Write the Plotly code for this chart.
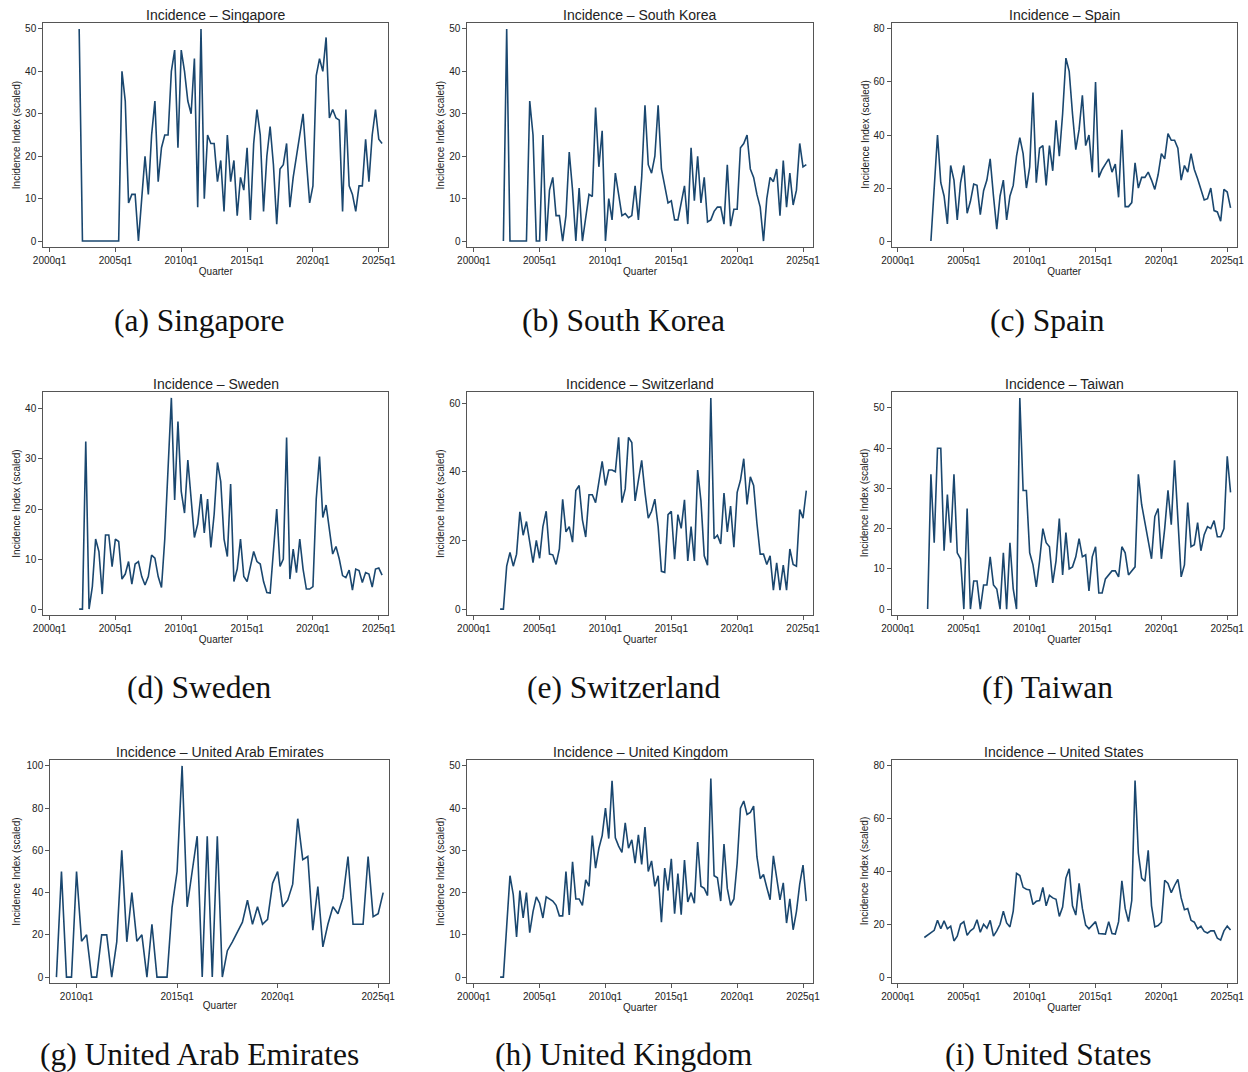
import plotly.graph_objects as go

# ---------------- data (quarterly incidence index, scaled) ----------------
countries = ["Singapore", "South Korea", "Spain", "Sweden", "Switzerland",
             "Taiwan", "United Arab Emirates", "United Kingdom", "United States"]
letters = ["a", "b", "c", "d", "e", "f", "g", "h", "i"]

start_quarters = ["2002q2", "2002q2", "2002q3", "2002q2", "2002q1",
                  "2002q2", "2009q1", "2002q1", "2002q1"]

singapore = [50, 0, 0, 0, 0, 0, 0, 0, 0, 0, 0, 0, 0,
             40, 33, 9, 11, 11, 0, 10, 20, 11, 25,
             33, 14, 22, 25, 25, 40, 45, 22,
             45, 40, 33, 30, 43, 8, 50, 10,
             25, 23, 23, 14, 19, 7, 25, 14,
             19, 6, 15, 12, 22, 5, 23, 31,
             25, 7, 20, 27, 18, 4, 17, 18,
             23, 8, 15, 20, 25, 30, 19, 9,
             13, 39, 43, 40, 48, 29, 31, 29,
             28.5, 7, 31, 13, 11, 7, 13, 13,
             24, 14, 25, 31, 24, 23]

south_korea = [0, 50, 0, 0, 0, 0, 0, 0,
               33, 25, 0, 0, 25, 0, 12,
               15, 6, 6, 0, 6, 21, 12, 0,
               12.5, 0, 6, 11, 10.5, 31.5, 17.5, 26,
               0, 10, 5, 16, 11, 6, 6.5, 5.5,
               6, 13, 5, 15, 32, 18, 16, 20,
               32, 17, 13, 9, 9.5, 5, 5, 9,
               13, 4, 22, 9.5, 20, 9, 15, 4.5,
               5, 7, 8, 8, 4, 18, 3.5, 7.5,
               7.5, 22, 23, 25, 17, 15, 11, 8,
               0, 10, 15, 14, 17, 6, 19, 8,
               16, 8.5, 12, 23, 17.5, 18]

spain = [0, 22, 40, 22, 17, 6.5, 28.5, 23, 8, 22,
         28.5, 10.5, 15, 21.5, 21, 10, 19, 23,
         31, 17, 4.5, 17, 23, 8, 17, 21,
         32, 39, 33, 20, 28, 56, 22, 35,
         36, 21, 36, 26.5, 45.5, 32, 48, 69,
         64, 48, 34.5, 42, 55, 36, 40, 26,
         60, 24, 27, 29, 31, 26, 29, 16.5,
         42, 13, 13, 14.5, 29.5, 20, 24, 24,
         26, 23, 19.5, 25, 33, 31, 40.5, 38,
         38, 35, 23, 28.5, 26, 33, 27, 23.5,
         19, 15.5, 16, 20, 11.5, 11, 7.5, 19.5,
         18.5, 12.5]

sweden = [0, 0, 33.5, 0, 4.5, 14, 11.5, 3, 14.8, 14.8, 8.5,
          14, 13.5, 6, 7, 9.5, 5, 9, 9.5,
          6.5, 4.8, 6.5, 10.8, 10.2, 6.5, 4.3, 14,
          29, 42.2, 21.8, 37.5, 23.5, 19.2, 29.8, 22,
          14.3, 17, 23, 15.2, 22, 12.3, 19, 29.3,
          25.5, 14, 10.5, 25, 5.5, 8, 14, 6.5,
          5.5, 8.5, 11.5, 9.5, 9, 5.5, 3.3, 3.2,
          11, 20, 8.5, 10, 34.3, 6, 12, 7.3,
          14, 8, 4, 4, 4.5, 22, 30.5, 18.3,
          20.8, 15.5, 11, 12.5, 10, 6.7, 6.3, 7.8,
          3.8, 8, 7.7, 5.3, 7.3, 7, 4.4, 8,
          8.2, 6.8]

switzerland = [0, 0, 12.5, 16.5, 12.5, 16, 28.3, 21.5,
               25.5, 19.5, 13.5, 20, 14.8, 24, 28.5, 16,
               15.8, 13, 17.5, 32, 22.5, 24, 19.5, 34.5,
               36, 26, 21, 33.3, 33.3, 31, 37, 43,
               36, 40.5, 40.5, 40, 50, 31, 35, 50,
               48.5, 31.5, 37.5, 43.3, 34, 26.5, 28.5, 32,
               24, 11, 10.7, 27.5, 28.5, 14.5, 27.5, 23.5,
               31.8, 14, 24, 14, 40.5, 31.5, 15.5, 12.8,
               61.5, 20.5, 21.5, 19, 33.8, 22.5, 30, 18,
               34, 37.5, 43.8, 30.5, 38.5, 36, 25, 16,
               16, 13, 15.5, 5.5, 13.5, 5.5, 12.8, 5.5,
               17.5, 13, 12.5, 29, 26.5, 34.5]

taiwan = [0, 33.5, 16.5, 40, 40, 14.5, 28.5, 16.5, 33.5, 14, 12.5,
          0, 25, 0, 7, 7, 0, 6, 6,
          13, 6, 5, 0, 14, 0, 16.5, 5,
          0, 52.5, 29.5, 29.5, 14, 11, 5.5, 12,
          20, 16.5, 15.5, 6.5, 12, 22.5, 8.5, 19,
          10, 10.5, 13, 17.5, 13, 13.5, 4.5, 13,
          15.5, 4, 4, 7.5, 8.5, 9.5, 9.5, 8,
          15.5, 14, 8.5, 9.5, 10.5, 33.5, 26, 21.5,
          17, 12.5, 23, 25, 12.5, 20, 29.5, 21,
          37, 21, 8, 11, 26.5, 15.5, 16, 21.5,
          14.5, 18.5, 20.5, 20, 22, 18, 18, 20,
          38, 29]

uae = [0, 50, 0, 0, 50, 17, 20, 0,
       0, 20, 20, 0, 16.7, 60, 16.7, 40,
       17, 20, 0, 25, 0, 0, 0, 33,
       50, 100, 33.3, 50, 66.7, 0, 66.7, 0,
       66.7, 0, 12.5, 16.7, 21.4, 26, 36.4, 25,
       33.3, 25, 27.3, 44.4, 50, 33.3, 36.4, 44,
       75, 55.6, 57.1, 22.2, 42.9, 14.3, 25, 33.3,
       30, 37.5, 57.1, 25, 25, 25, 57.1, 28.6,
       30, 40]

united_kingdom = [0, 0, 12, 24, 19.5, 9.5, 20.5, 14,
                  20, 10.5, 15.5, 19, 17.5, 14, 19, 18.5,
                  18, 17, 14.5, 14.5, 25, 14.7, 27.3, 18.5,
                  18.5, 17, 23, 21.5, 33.5, 25.8, 30.5, 33.5,
                  40, 32.8, 46.5, 33, 31, 29.5, 36.5, 30.5,
                  32.5, 27, 33.7, 26.7, 35.5, 25, 27.5, 21.5,
                  24, 13, 25.8, 20.5, 28, 15, 24.5, 14.8,
                  27.7, 17.8, 20, 17.5, 32, 21.5, 21, 19.3,
                  47, 24, 23.5, 18, 31.5, 21, 17, 18.5,
                  27, 40, 41.7, 38.5, 39, 40.5, 28.5, 23.3,
                  24.3, 21.2, 18.3, 28.7, 23, 18.3, 22.3, 12.8,
                  18.5, 11.2, 15.5, 22, 26.5, 18]

united_states = [15, 16, 17, 17.7, 21.5, 18.3, 21.3, 18.3,
                 19.3, 13.7, 15.5, 20, 21, 15.8, 17.5, 18.5,
                 21.7, 17, 20, 18.5, 21.5, 15.5, 17.5, 20,
                 25, 20.5, 19, 25, 39.3, 38.5, 34, 33.3,
                 33, 27.5, 28.7, 29, 34, 27, 31, 30,
                 29.5, 23, 26.5, 37.5, 41, 27, 23.5, 35.5,
                 26, 19.7, 18.3, 19.5, 21, 16.5, 16.3, 16.3,
                 21, 16.5, 16.3, 21, 36.5, 26, 21, 29,
                 74.5, 47, 37.5, 36.3, 48, 27, 19, 19.5,
                 20.8, 36.7, 35.5, 32, 34.7, 37, 30, 25.5,
                 26, 21.5, 20.8, 18.3, 19.3, 17.3, 16.7, 17.5,
                 17.5, 14.7, 14, 17.5, 19.3, 17.8]

series = [singapore, south_korea, spain, sweden, switzerland,
          taiwan, uae, united_kingdom, united_states]

y_tick_step = [10, 10, 20, 10, 20, 10, 20, 10, 20]
y_tick_top = [50, 50, 80, 40, 60, 50, 100, 50, 80]

x_tick_labels_full = ["2000q1", "2005q1", "2010q1", "2015q1", "2020q1", "2025q1"]
x_tick_labels_uae = ["2010q1", "2015q1", "2020q1", "2025q1"]

# ---------------- helpers ----------------
def q_to_num(s):
    y, q = s.split("q")
    return int(y) + (int(q) - 1) / 4.0

W, H = 1248, 1072
# horizontal calibration of the photographed page (measured from previous renders)
SX, BX = 0.98585, 9.8

def px_x(px):
    return ((px - BX) / SX) / W

def px_y(py):
    return 1 - py / H

LINE_COLOR = "#1a476f"
FRAME_COLOR = "#555555"
TEXT_COLOR = "#222222"
SANS = "Liberation Sans, Arial, sans-serif"
SERIF = "Liberation Serif, Times New Roman, serif"

col_frames = [(43, 388), (467, 812), (891, 1236)]
col_frames_uae = (50, 389)
row_frames = [(23, 247), (392, 615), (760, 983)]
caption_x = [199, 623, 1047]
caption_y = [320, 687, 1054]

fig = go.Figure()
layout = dict(
    width=W, height=H, autosize=False,
    margin=dict(l=0, r=0, t=0, b=0),
    paper_bgcolor="white", plot_bgcolor="white",
    showlegend=False,
)
annotations = []

for i, (name, vals) in enumerate(zip(countries, series)):
    r, c = divmod(i, 3)
    x0 = q_to_num(start_quarters[i])
    xs = [x0 + k / 4.0 for k in range(len(vals))]
    ax_id = "" if i == 0 else str(i + 1)
    fig.add_trace(go.Scatter(
        x=xs, y=vals, mode="lines",
        line=dict(color=LINE_COLOR, width=1.6),
        xaxis="x" + ax_id, yaxis="y" + ax_id,
        hoverinfo="skip",
    ))

    tick_labels = x_tick_labels_uae if name == "United Arab Emirates" else x_tick_labels_full
    tick_vals = [q_to_num(t) for t in tick_labels]
    xlo = min(min(xs), min(tick_vals))
    xhi = max(max(xs), max(tick_vals))
    xpad = 0.019 * (xhi - xlo)

    yt = list(range(0, y_tick_top[i] + 1, y_tick_step[i]))
    ylo = min(min(vals), 0)
    yhi = max(max(vals), y_tick_top[i])
    ypad = 0.028 * (yhi - ylo)

    lpx, rpx = col_frames_uae if name == "United Arab Emirates" else col_frames[c]
    tpx, bpx = row_frames[r]

    common = dict(showline=True, mirror=True, linecolor=FRAME_COLOR, linewidth=1,
                  showgrid=False, zeroline=False, ticks="outside", ticklen=4,
                  tickcolor=FRAME_COLOR, tickwidth=1,
                  tickfont=dict(family=SANS, size=10, color=TEXT_COLOR))
    layout["xaxis" + ax_id] = dict(
        common, domain=[px_x(lpx), px_x(rpx)], anchor="y" + ax_id,
        range=[xlo - xpad, xhi + xpad],
        tickvals=tick_vals, ticktext=tick_labels,
        title=dict(text="Quarter", font=dict(family=SANS, size=10, color=TEXT_COLOR), standoff=0),
    )
    layout["yaxis" + ax_id] = dict(
        common, domain=[px_y(bpx), px_y(tpx)], anchor="x" + ax_id,
        range=[ylo - ypad, yhi + ypad], tickvals=yt,
        ticktext=[str(v) for v in yt],
    )
    # panel title
    annotations.append(dict(
        text="Incidence \u2013 " + name, x=px_x((lpx + rpx) / 2), y=px_y(tpx - 8),
        xref="paper", yref="paper", xanchor="center", yanchor="middle",
        showarrow=False, font=dict(family=SANS, size=14, color=TEXT_COLOR)))
    # y-axis title
    ytitle_x = [16, 440, 864][c]
    annotations.append(dict(
        text="Incidence Index (scaled)", x=px_x(ytitle_x), y=px_y((tpx + bpx) / 2),
        xref="paper", yref="paper", xanchor="center", yanchor="middle", textangle=-90,
        showarrow=False, font=dict(family=SANS, size=10, color=TEXT_COLOR)))
    # caption
    annotations.append(dict(
        text="(" + letters[i] + ") " + name, x=px_x(caption_x[c]), y=px_y(caption_y[r]),
        xref="paper", yref="paper", xanchor="center", yanchor="middle",
        showarrow=False, font=dict(family=SERIF, size=31.5, color="#111111")))

layout["annotations"] = annotations
fig.update_layout(**layout)
fig.write_html(
    "out.html",
    config={"displayModeBar": False, "responsive": False},
    post_script="document.body.style.margin='0';document.body.style.padding='0';"
                "document.body.style.overflow='hidden';",
)
